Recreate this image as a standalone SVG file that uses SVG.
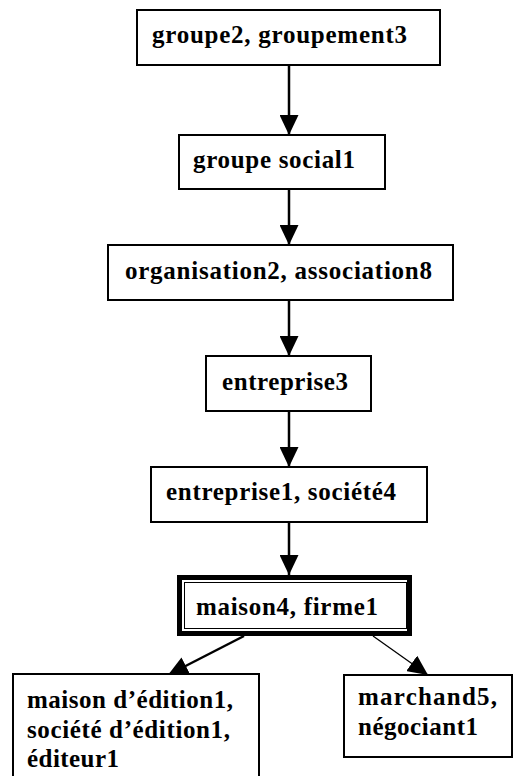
<svg xmlns="http://www.w3.org/2000/svg" width="513" height="776" viewBox="0 0 513 776">
  <style>
    .box { fill: #ffffff; stroke: #000000; stroke-width: 2; }
    .lbl { font-family: "Liberation Serif", "Times New Roman", serif; font-weight: bold; font-size: 25px; fill: #000000; }
    .edge { stroke: #000000; stroke-width: 2.5; fill: none; }
    .edge-thin { stroke: #000000; stroke-width: 1.3; fill: none; }
  </style>
  <defs>
    <marker id="head" markerUnits="userSpaceOnUse" markerWidth="20" markerHeight="19" refX="20" refY="9.5" orient="auto">
      <path d="M0,0 L20,9.5 L0,19 Z" fill="#000000"/>
    </marker>
  </defs>
  <rect width="513" height="776" fill="#ffffff"/>

  <!-- connectors -->
  <g id="connectors">
    <line class="edge" x1="289" y1="65" x2="289" y2="135" marker-end="url(#head)"/>
    <line class="edge" x1="289" y1="189" x2="289" y2="245" marker-end="url(#head)"/>
    <line class="edge" x1="289" y1="300" x2="289" y2="356" marker-end="url(#head)"/>
    <line class="edge" x1="289" y1="411" x2="289" y2="467" marker-end="url(#head)"/>
    <line class="edge" x1="289" y1="522" x2="289" y2="575" marker-end="url(#head)"/>
    <line class="edge" x1="244" y1="636" x2="168" y2="675" marker-end="url(#head)"/>
    <line class="edge-thin" x1="373" y1="636" x2="428" y2="675" marker-end="url(#head)"/>
  </g>

  <g id="groupe2">
    <rect class="box" x="137" y="10" width="303" height="55"/>
    <text class="lbl" x="152" y="43" textLength="255" lengthAdjust="spacing">groupe2, groupement3</text>
  </g>

  <g id="groupe-social1">
    <rect class="box" x="179" y="135" width="206" height="54"/>
    <text class="lbl" x="193" y="168" textLength="162" lengthAdjust="spacing">groupe social1</text>
  </g>

  <g id="organisation2">
    <rect class="box" x="108" y="245" width="345" height="55"/>
    <text class="lbl" x="125" y="279" textLength="307" lengthAdjust="spacing">organisation2, association8</text>
  </g>

  <g id="entreprise3">
    <rect class="box" x="206" y="356" width="165" height="55"/>
    <text class="lbl" x="222" y="390" textLength="126" lengthAdjust="spacing">entreprise3</text>
  </g>

  <g id="entreprise1">
    <rect class="box" x="151" y="467" width="276" height="55"/>
    <text class="lbl" x="166" y="500" textLength="230" lengthAdjust="spacing">entreprise1, société4</text>
  </g>

  <g id="maison4">
    <rect x="179.5" y="577.5" width="230" height="56" fill="#ffffff" stroke="#000000" stroke-width="5"/>
    <rect x="184.5" y="582.5" width="222" height="46" fill="none" stroke="#000000" stroke-width="1"/>
    <text class="lbl" x="196" y="615" textLength="182" lengthAdjust="spacing">maison4, firme1</text>
  </g>

  <g id="maison-edition1">
    <rect class="box" x="13" y="674" width="246" height="110"/>
    <text class="lbl" x="27" y="708" textLength="206" lengthAdjust="spacing">maison d’édition1,</text>
    <text class="lbl" x="27" y="738" textLength="203" lengthAdjust="spacing">société d’édition1,</text>
    <text class="lbl" x="27" y="767" textLength="92" lengthAdjust="spacing">éditeur1</text>
  </g>

  <g id="marchand5">
    <rect class="box" x="344" y="675" width="168" height="82"/>
    <text class="lbl" x="358" y="705" textLength="139" lengthAdjust="spacing">marchand5,</text>
    <text class="lbl" x="358" y="735" textLength="120" lengthAdjust="spacing">négociant1</text>
  </g>
</svg>
